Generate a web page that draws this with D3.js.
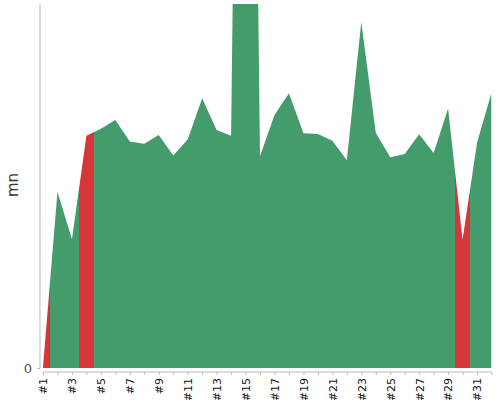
<!DOCTYPE html>
<html><head><meta charset="utf-8">
<script src="https://cdn.jsdelivr.net/npm/d3@7"></script>
<style>body{margin:0;background:#fff;} svg{display:block;font-family:"DejaVu Sans",sans-serif;}</style>
</head><body>
<svg id="c" width="500" height="400"></svg>
<script>
const categories = d3.range(1, 33).map(i => "#" + i);
const values = [0.3, 48.4, 35.4, 63.8, 65.7, 68.1, 62.2, 61.6, 64.0, 58.4, 62.8, 74.1, 65.4, 63.8, 396,
  58.2, 69.5, 75.5, 64.5, 64.3, 62.4, 57.1, 95.1, 64.6, 57.9, 58.8, 64.2, 59.1, 71.3, 35.2, 61.9, 75.6];
const flagged = ["#1", "#4", "#30"];
const yTicks = [0];
const yLabel = "mn";
const colors = { ok: "#449c6c", bad: "#d63638" };

(function () {
const svg = d3.select("#c");
const pL = 43, pR = 491.5, pT = 4, pB = 368;
const x = d3.scalePoint().domain(categories).range([pL, pR]);
const y = d3.scaleLinear().domain([0, 100]).range([pB, pT]);

const data = categories.map((c, i) => ({ c, v: values[i], bad: flagged.includes(c) }));

const defs = svg.append("defs");
const grad = defs.append("linearGradient").attr("id", "g")
  .attr("gradientUnits", "userSpaceOnUse")
  .attr("x1", pL).attr("x2", pR).attr("y1", 0).attr("y2", 0);
const w = pR - pL, step = x.step();
data.forEach(d => {
  const a = Math.max(pL, x(d.c) - step / 2), b = Math.min(pR, x(d.c) + step / 2);
  const col = d.bad ? colors.bad : colors.ok;
  grad.append("stop").attr("offset", (a - pL) / w).attr("stop-color", col);
  grad.append("stop").attr("offset", (b - pL) / w).attr("stop-color", col);
});

defs.append("clipPath").attr("id", "clip").append("rect")
  .attr("x", pL).attr("y", pT).attr("width", w).attr("height", pB - pT);

const area = d3.area().x(d => x(d.c)).y0(y(0)).y1(d => y(d.v));
svg.append("path").datum(data).attr("d", area).attr("fill", "url(#g)").attr("clip-path", "url(#clip)");

const ya = svg.append("g").attr("transform", "translate(40,0)")
  .call(d3.axisLeft(y).tickValues(yTicks).tickSize(3).tickPadding(5));
ya.select(".domain").attr("stroke", "#bbb").attr("d", `M0,${pT}V${pB}`);
ya.selectAll(".tick line").attr("stroke", "#bbb");
ya.selectAll("text").attr("fill", "#555").attr("font-size", 13).attr("font-family", "DejaVu Sans");

svg.append("text").attr("transform", "translate(18,185) rotate(-90)")
  .attr("text-anchor", "middle").attr("font-size", 15).attr("fill", "#333").text(yLabel);

const xa = svg.append("g").attr("transform", "translate(0,372)")
  .call(d3.axisBottom(x).tickSize(3).tickPadding(4)
    .tickFormat((d, i) => i % 2 === 0 ? d : ""));
xa.select(".domain").attr("stroke", "#bbb").attr("d", `M${pL},0H${pR}`);
xa.selectAll(".tick line").attr("stroke", "#bbb");
xa.selectAll("text").attr("fill", "#111").attr("font-size", 11).attr("font-family", "DejaVu Sans")
  .attr("transform", "rotate(-90)").attr("text-anchor", "end")
  .attr("x", -6).attr("y", 0).attr("dy", "0.35em");
})();
</script>
</body></html>
